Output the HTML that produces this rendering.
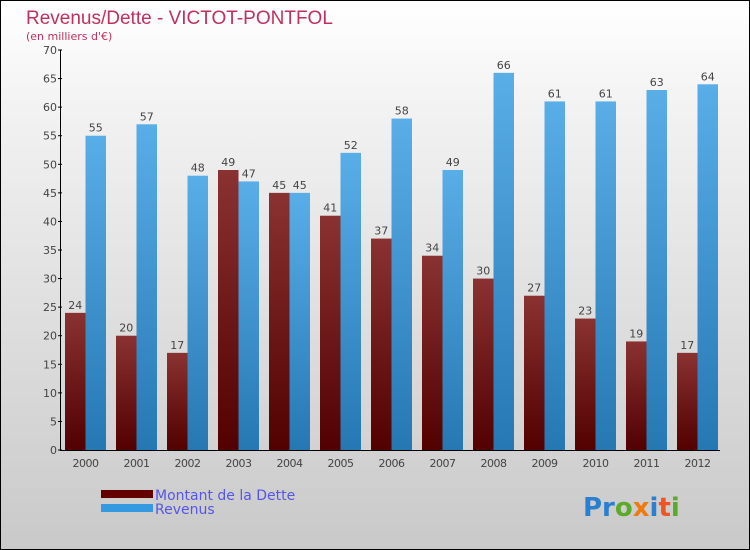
<!DOCTYPE html>
<html><head><meta charset="utf-8"><style>
body{margin:0}
#c{position:relative;width:748px;height:548px;border:1px solid #000;background:linear-gradient(#fff,#f2f2f2 20%,#c9c9c9);font-family:"DejaVu Sans","Liberation Sans",sans-serif;overflow:hidden}
</style></head><body>
<div id="c">
<svg id="s" width="748" height="548">
<defs>
<linearGradient id="gd" x1="0" y1="0" x2="0" y2="1"><stop offset="0" stop-color="#8a3232"/><stop offset="1" stop-color="#520000"/></linearGradient>
<linearGradient id="gr" x1="0" y1="0" x2="0" y2="1"><stop offset="0" stop-color="#5aaee8"/><stop offset="1" stop-color="#2578b2"/></linearGradient>
</defs>
<text x="25" y="23" font-size="19" fill="#c0305e" style="font-family:'Liberation Sans',sans-serif;font-weight:300">Revenus/Dette - VICTOT-PONTFOL</text>
<text x="25" y="39" font-size="11" fill="#c0305e">(en milliers d'€)</text>
<g id="g"></g>
<rect x="100" y="489" width="52" height="8" fill="#620000"/>
<rect x="100" y="503" width="52" height="8" fill="#3399e0"/>
<text x="154" y="499" font-size="14" fill="#5555ee">Montant de la Dette</text>
<text x="154" y="513" font-size="14" fill="#5555ee">Revenus</text>
<text x="582" y="515" font-size="26" font-weight="bold"><tspan fill="#2a7fd0">Pr</tspan><tspan fill="#5caa2a">o</tspan><tspan fill="#ee7a10">x</tspan><tspan fill="#2a7fd0">i</tspan><tspan fill="#ee5522">t</tspan><tspan fill="#5caa2a">i</tspan></text>
</svg></div>
<script>
const years=["2000","2001","2002","2003","2004","2005","2006","2007","2008","2009","2010","2011","2012"];
const dette=[24,20,17,49,45,41,37,34,30,27,23,19,17];
const revenus=[55,57,48,47,45,52,58,49,66,61,61,63,64];
const yTicks=[0,5,10,15,20,25,30,35,40,45,50,55,60,65,70];
const NS="http://www.w3.org/2000/svg";
const g=document.getElementById('g');
const y=v=>449-v*400/70;
const x0=59,gw=51,bw=20.5;
function mk(t,a,txt){const e=document.createElementNS(NS,t);for(const k in a)e.setAttribute(k,a[k]);if(txt!=null)e.textContent=txt;g.appendChild(e);return e;}
years.forEach((yr,i)=>{
 const xd=x0+5+gw*i;
 let e=mk('rect',{x:xd,y:y(dette[i]),width:bw,height:449-y(dette[i]),fill:'url(#gd)'});
 
 
 e=mk('rect',{x:xd+bw,y:y(revenus[i]),width:bw,height:449-y(revenus[i]),fill:'url(#gr)'});
 
 
 e=mk('text',{x:xd+bw/2,y:y(dette[i])-4,'font-size':11,fill:'#444','text-anchor':'middle'},dette[i]);
 
 
 e=mk('text',{x:xd+bw*1.5,y:y(revenus[i])-4,'font-size':11,fill:'#444','text-anchor':'middle'},revenus[i]);
 
 
 e=mk('text',{x:xd+bw,y:466,'font-size':11,fill:'#444','text-anchor':'middle','letter-spacing':'-0.5'},yr);
 
 
});
yTicks.forEach(v=>{
 let e=mk('line',{x1:57,x2:61,y1:y(v),y2:y(v),stroke:'#000'});
 
 
 e=mk('text',{x:56,y:y(v)+4,'font-size':11,fill:'#444','text-anchor':'end'},v);
 
 
});
let ax=mk('line',{x1:59.5,x2:59.5,y1:y(70),y2:449.5,stroke:'#000'});


ax=mk('line',{x1:59,x2:719,y1:449.5,y2:449.5,stroke:'#000'});


</script>
</body></html>
